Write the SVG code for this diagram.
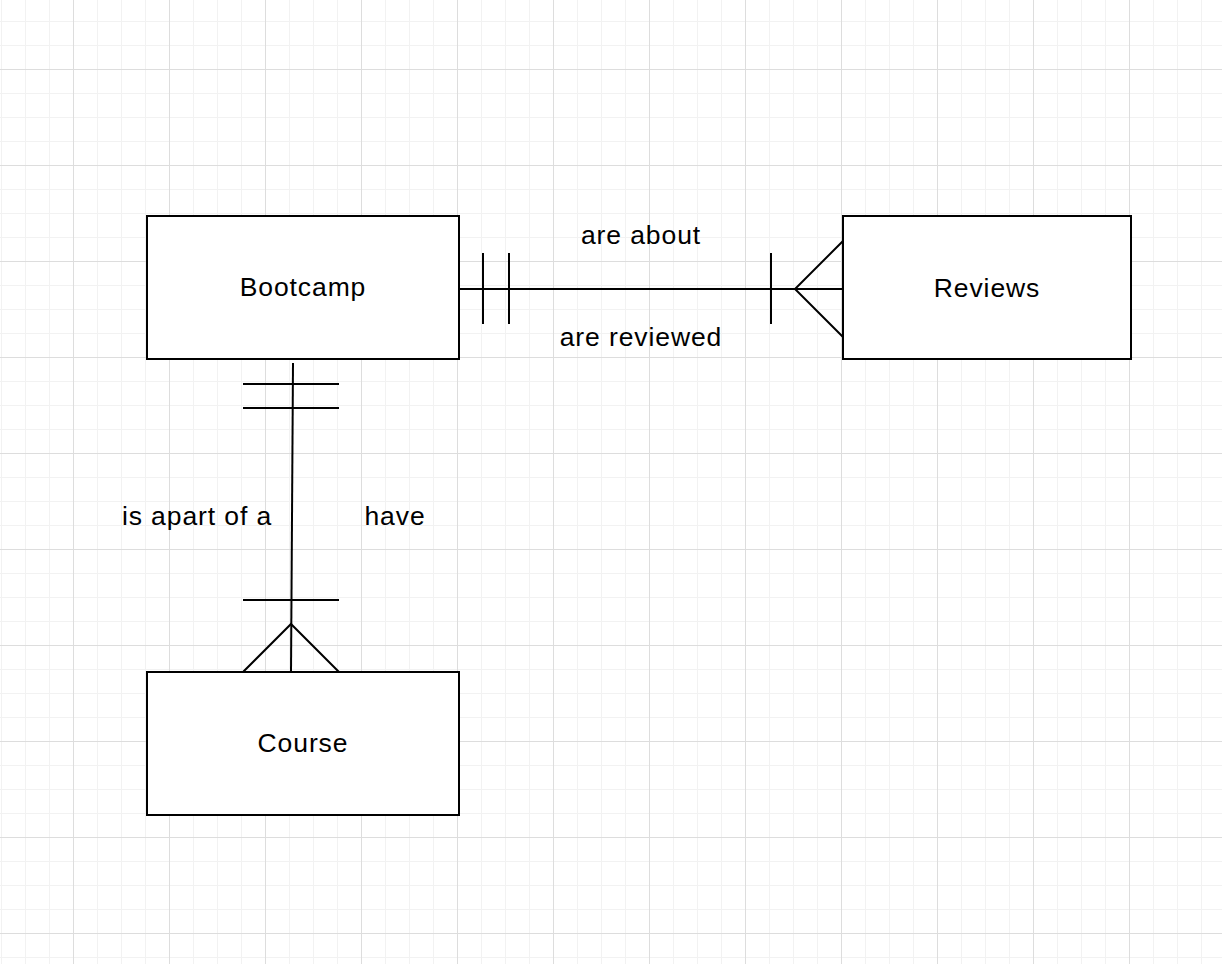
<svg xmlns="http://www.w3.org/2000/svg" width="1222" height="964" viewBox="0 0 1222 964">
  <defs>
    <pattern id="grid" patternUnits="userSpaceOnUse" x="1" y="21" width="96" height="96">
      <g stroke="#f2f2f2" stroke-width="1">
        <line x1="0.5" y1="0" x2="0.5" y2="96"/>
        <line x1="24.5" y1="0" x2="24.5" y2="96"/>
        <line x1="48.5" y1="0" x2="48.5" y2="96"/>
        <line x1="0" y1="0.5" x2="96" y2="0.5"/>
        <line x1="0" y1="24.5" x2="96" y2="24.5"/>
        <line x1="0" y1="72.5" x2="96" y2="72.5"/>
      </g>
      <g stroke="#dddddd" stroke-width="1">
        <line x1="72.5" y1="0" x2="72.5" y2="96"/>
        <line x1="0" y1="48.5" x2="96" y2="48.5"/>
      </g>
    </pattern>
    <style>
      .box { fill: #ffffff; stroke: #000000; stroke-width: 2; }
      .ln { fill: none; stroke: #000000; stroke-width: 2; }
      .t { font-family: "Liberation Sans", Arial, sans-serif; font-size: 26.5px; letter-spacing: 0.9px; fill: #000000; text-anchor: middle; }
    </style>
  </defs>
  <rect x="0" y="0" width="1222" height="964" fill="#ffffff"/>
  <rect x="0" y="0" width="1222" height="964" fill="url(#grid)"/>

  <g id="connectors">
    <g id="bootcamp-reviews">
      <line class="ln" x1="459" y1="289" x2="843" y2="289"/>
      <line class="ln" x1="483" y1="253" x2="483" y2="324"/>
      <line class="ln" x1="509" y1="253" x2="509" y2="324"/>
      <line class="ln" x1="771" y1="253" x2="771" y2="324"/>
      <polyline class="ln" points="843,241 795,289 843,337"/>
    </g>
    <g id="bootcamp-course">
      <line class="ln" x1="293" y1="363" x2="291" y2="672"/>
      <line class="ln" x1="243" y1="384" x2="339" y2="384"/>
      <line class="ln" x1="243" y1="408" x2="339" y2="408"/>
      <line class="ln" x1="243" y1="600" x2="339" y2="600"/>
      <polyline class="ln" points="243,672 291,624 339,672"/>
    </g>
    <text class="t" x="641" y="244">are about</text>
    <text class="t" x="641" y="346">are reviewed</text>
    <text class="t" x="197" y="525">is apart of a</text>
    <text class="t" x="395" y="525">have</text>
  </g>

  <g id="bootcamp">
    <rect class="box" x="147" y="216" width="312" height="143"/>
    <text class="t" x="303" y="296">Bootcamp</text>
  </g>
  <g id="reviews">
    <rect class="box" x="843" y="216" width="288" height="143"/>
    <text class="t" x="987" y="297">Reviews</text>
  </g>
  <g id="course">
    <rect class="box" x="147" y="672" width="312" height="143"/>
    <text class="t" x="303" y="752">Course</text>
  </g>
</svg>
